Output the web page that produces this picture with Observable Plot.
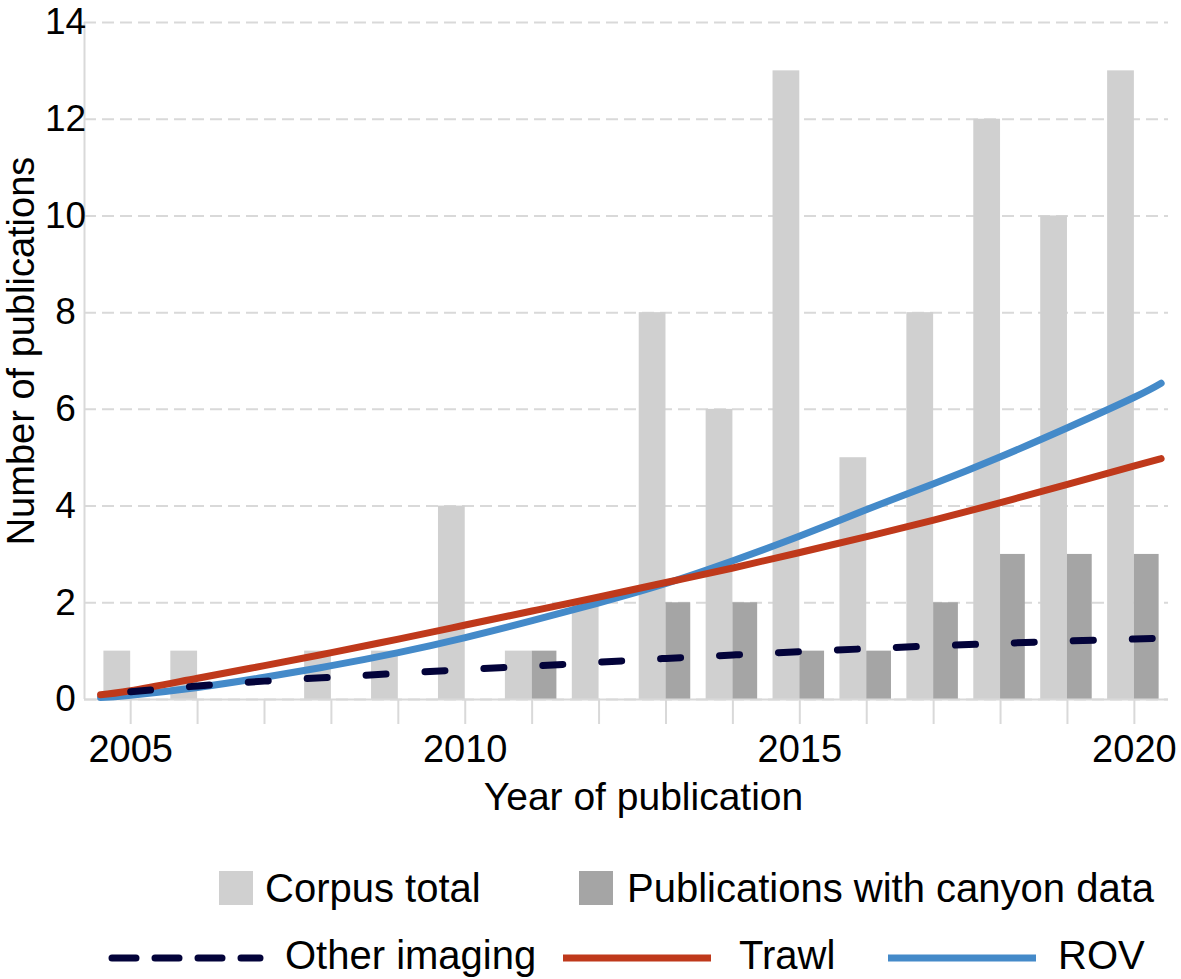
<!DOCTYPE html>
<html>
<head>
<meta charset="utf-8">
<script src="https://cdn.jsdelivr.net/npm/d3@7"></script>
<script src="https://cdn.jsdelivr.net/npm/@observablehq/plot@0.6"></script>
<style>
  body { margin: 0; background: #fff; font-family: "Liberation Sans", Arial, sans-serif; }
  #legend { position: relative; width: 1181px; height: 149px; font-size: 40px; color: #000; }
  .item { position: absolute; display: flex; align-items: center; height: 44px; white-space: nowrap; }
</style>
</head>
<body>
<div id="chart"></div>
<div id="legend"></div>
<script>
const years = [2005, 2006, 2007, 2008, 2009, 2010, 2011, 2012, 2013, 2014, 2015, 2016, 2017, 2018, 2019, 2020]
const corpusTotal = [1, 1, 0, 1, 1, 4, 1, 2, 8, 6, 13, 5, 8, 12, 10, 13]
const canyonData = [0, 0, 0, 0, 0, 0, 1, 0, 2, 2, 1, 1, 2, 3, 3, 3]
const labelYears = [2005, 2010, 2015, 2020]
const yTicks = [0, 2, 4, 6, 8, 10, 12, 14]
const xDomain = [2004.31, 2020.51]

// trend lines
const trendYears = [2004.55, 2005, 2006, 2007, 2008, 2009, 2010, 2011, 2012, 2013, 2014, 2015, 2016, 2017, 2018, 2019, 2020, 2020.4]
const trawl = [0.1, 0.18, 0.44, 0.70, 0.97, 1.25, 1.54, 1.83, 2.12, 2.42, 2.72, 3.04, 3.37, 3.71, 4.07, 4.45, 4.83, 4.98]
const rov = [0.04, 0.09, 0.25, 0.46, 0.70, 0.97, 1.28, 1.63, 2.00, 2.40, 2.87, 3.38, 3.93, 4.46, 5.02, 5.62, 6.25, 6.54]
const otherYears = [2005, 2006, 2007, 2008, 2009, 2010, 2011, 2012, 2013, 2014, 2015, 2016, 2017, 2018, 2019, 2020, 2020.4]
const otherImaging = [0.16, 0.28, 0.38, 0.46, 0.54, 0.62, 0.69, 0.77, 0.85, 0.92, 0.99, 1.05, 1.11, 1.16, 1.21, 1.25, 1.27]

const bars = years.map((year, i) => ({year, total: corpusTotal[i], canyon: canyonData[i]}))
const trawlData = trendYears.map((year, i) => ({year, value: trawl[i]}))
const rovData = trendYears.map((year, i) => ({year, value: rov[i]}))
const otherData = otherYears.map((year, i) => ({year, value: otherImaging[i]}))

const grey = '#d9d9d9'

const chart = Plot.plot({
  width: 1181,
  height: 830,
  marginTop: 22,
  marginLeft: 84,
  marginRight: 13,
  marginBottom: 131,
  style: {fontFamily: '"Liberation Sans", Arial, sans-serif', fontSize: '38px', color: '#000', background: '#fff', overflow: 'visible'},
  x: {domain: xDomain},
  y: {domain: [0, 14]},
  marks: [
    Plot.gridY(yTicks, {stroke: grey, strokeOpacity: 1, strokeWidth: 2, strokeDasharray: '12,6'}),
    Plot.rect(bars, {x1: d => d.year - 0.4, x2: d => d.year, y1: 0, y2: 'total', fill: '#d0d0d0'}),
    Plot.rect(bars, {x1: d => d.year, x2: d => d.year + 0.37, y1: 0, y2: 'canyon', fill: '#a5a5a5'}),
    Plot.ruleY([0], {stroke: grey, strokeWidth: 2}),
    Plot.ruleX([xDomain[0]], {stroke: grey, strokeWidth: 2}),
    Plot.axisX(years, {tickSize: 25, tickPadding: 11, stroke: grey, strokeWidth: 2, strokeOpacity: 1,
      tickFormat: d => labelYears.includes(d) ? String(d) : '', label: null, fontSize: 38}),
    Plot.axisY(yTicks, {tickSize: 0, tickPadding: 19, textAnchor: 'middle', label: null, fontSize: 37}),
    Plot.line(rovData, {x: 'year', y: 'value', stroke: '#448ac9', strokeWidth: 7, curve: 'natural', strokeLinecap: 'round'}),
    Plot.line(trawlData, {x: 'year', y: 'value', stroke: '#bf391b', strokeWidth: 7, curve: 'natural', strokeLinecap: 'round'}),
    Plot.line(otherData, {x: 'year', y: 'value', stroke: '#03033a', strokeWidth: 7, curve: 'natural',
      strokeLinecap: 'round', strokeDasharray: '20,39'}),
    Plot.text(['Year of publication'], {frameAnchor: 'bottom', dx: 17, dy: 110, lineAnchor: 'bottom', fontSize: 39}),
    Plot.text(['Number of publications'], {frameAnchor: 'left', textAnchor: 'middle', rotate: -90, dx: -51, dy: -10,
      lineAnchor: 'bottom', fontSize: 38}),
  ],
})

d3.select('#chart').append(() => chart)

// legend below the svg
const legendItems = [
  {label: 'Corpus total', type: 'box', color: '#d0d0d0', left: 219, top: 36, gap: 12},
  {label: 'Publications with canyon data', type: 'box', color: '#a5a5a5', left: 579, top: 36, gap: 14},
  {label: 'Other imaging', type: 'dash', color: '#03033a', left: 106, top: 103, gap: 19},
  {label: 'Trawl', type: 'line', color: '#bf391b', left: 557, top: 103, gap: 22},
  {label: 'ROV', type: 'line', color: '#448ac9', left: 882, top: 103, gap: 16},
]

const legend = d3.select('#legend')
legendItems.forEach(it => {
  const item = legend.append('div').attr('class', 'item')
    .style('left', it.left + 'px').style('top', it.top + 'px')
  if (it.type === 'box') {
    item.append('div').style('width', '34px').style('height', '34px').style('background', it.color)
      .style('margin-right', it.gap + 'px')
  } else {
    const svg = item.append('svg').attr('width', 160).attr('height', 20).style('margin-right', it.gap + 'px')
    svg.append('line').attr('x1', 6).attr('x2', 154).attr('y1', 13).attr('y2', 13)
      .attr('stroke', it.color).attr('stroke-width', 7)
      .attr('stroke-linecap', it.type === 'dash' ? 'round' : 'butt')
      .attr('stroke-dasharray', it.type === 'dash' ? '24,19' : null)
  }
  item.append('span').text(it.label)
})
</script>
</body>
</html>
